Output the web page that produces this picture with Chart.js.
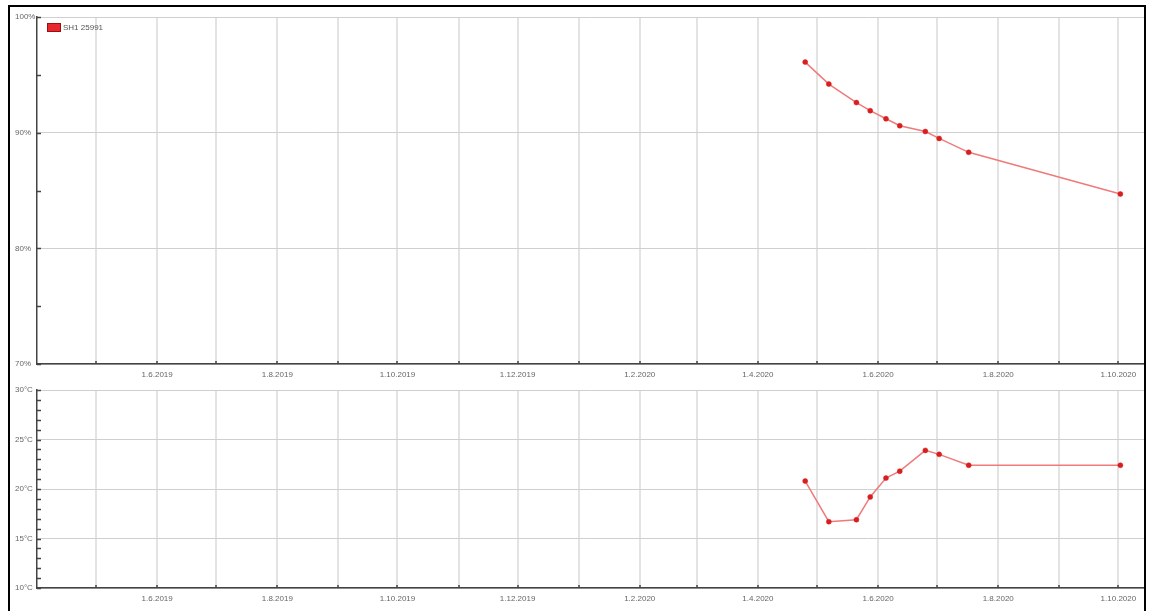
<!DOCTYPE html>
<html><head><meta charset="utf-8">
<script src="https://cdn.jsdelivr.net/npm/chart.js@4.4.0/dist/chart.umd.min.js"></script>
<style>
html,body{margin:0;padding:0;background:#fff;width:1149px;height:611px;overflow:hidden;}
#c1wrap{position:absolute;left:0;top:0;width:1149px;height:385px;}
#c2wrap{position:absolute;left:0;top:380px;width:1149px;height:231px;}
#frame{position:absolute;left:8px;top:5px;width:1134px;height:640px;border:2px solid #000;pointer-events:none;}
</style></head><body>
<div id="c1wrap"><canvas id="c1"></canvas></div>
<div id="c2wrap"><canvas id="c2"></canvas></div>
<div id="frame"></div>
<script>
// ---- data ----
const seriesLabel = 'SH1 25991';
const dates = ['2020-04-25','2020-05-07','2020-05-21','2020-05-28','2020-06-05','2020-06-12','2020-06-25','2020-07-02','2020-07-17','2020-10-02'];
const humidity = [96.1, 94.2, 92.6, 91.9, 91.2, 90.6, 90.1, 89.5, 88.3, 84.7];
const temperature = [20.8, 16.7, 16.9, 19.2, 21.1, 21.8, 23.9, 23.5, 22.4, 22.4];
const xMinDate = '2019-04-01';
const xMaxDate = '2020-10-14';
const monthTicks = ['2019-05-01','2019-06-01','2019-07-01','2019-08-01','2019-09-01','2019-10-01','2019-11-01','2019-12-01','2020-01-01','2020-02-01','2020-03-01','2020-04-01','2020-05-01','2020-06-01','2020-07-01','2020-08-01','2020-09-01','2020-10-01'];
const monthTickLabels = ['','1.6.2019','','1.8.2019','','1.10.2019','','1.12.2019','','1.2.2020','','1.4.2020','','1.6.2020','','1.8.2020','','1.10.2020'];
const humTicks = [70,75,80,85,90,95,100];
const humTickLabels = ['70%','','80%','','90%','','100%'];
const tempTicks = [10,11,12,13,14,15,16,17,18,19,20,21,22,23,24,25,26,27,28,29,30];
const tempTickLabels = ['10°C','','','','','15°C','','','','','20°C','','','','','25°C','','','','','30°C'];

// ---- helpers ----
const day = s => { const [y,m,d] = s.split('-').map(Number); return Date.UTC(y, m-1, d) / 864e5; };
const FONT_FAMILY = "'Liberation Sans', Arial, sans-serif";
const FONT = {family: FONT_FAMILY, size: 8};
const LABEL_COLOR = '#666';
const LINE_COLOR = '#f07a7a';
const POINT_COLOR = '#d81e1e';

const innerTicks = {
  id: 'innerTicks',
  afterDatasetsDraw(chart) {
    const ctx = chart.ctx, x = chart.scales.x, y = chart.scales.y, a = chart.chartArea;
    ctx.save();
    ctx.strokeStyle = '#444';
    ctx.lineWidth = 1.5;
    ctx.beginPath();
    x.ticks.forEach(t => { const p = Math.round(x.getPixelForValue(t.value)); ctx.moveTo(p, a.bottom); ctx.lineTo(p, a.bottom - 3); });
    y.ticks.forEach(t => { const p = Math.round(y.getPixelForValue(t.value)) + 0.5; ctx.moveTo(a.left, p); ctx.lineTo(a.left + 4, p); });
    ctx.stroke();
    ctx.restore();
  }
};
const insideLegend = {
  id: 'insideLegend',
  afterDraw(chart, args, opts) {
    if (!opts.show) return;
    const ctx = chart.ctx, a = chart.chartArea;
    const bx = a.left + 10, by = a.top + 6;
    ctx.save();
    ctx.fillStyle = '#e8262b';
    ctx.strokeStyle = '#9a1010';
    ctx.lineWidth = 1;
    ctx.fillRect(bx, by, 14, 9);
    ctx.strokeRect(bx + 0.5, by + 0.5, 13, 8);
    ctx.fillStyle = '#555';
    ctx.font = '8px ' + FONT_FAMILY;
    ctx.textBaseline = 'middle';
    ctx.fillText(chart.data.datasets[0].label, bx + 16, by + 4.5);
    ctx.restore();
  }
};

function makeChart(id, values, yTicks, yLabels, padTop, xAxisH, showLegend) {
  const xTickVals = monthTicks.map(day);
  return new Chart(document.getElementById(id), {
    type: 'line',
    data: {
      datasets: [{
        label: seriesLabel,
        data: dates.map((d, i) => ({x: day(d), y: values[i]})),
        borderColor: LINE_COLOR,
        backgroundColor: POINT_COLOR,
        borderWidth: 1.5,
        tension: 0,
        pointRadius: 2.5,
        pointBackgroundColor: POINT_COLOR,
        pointBorderColor: POINT_COLOR,
        pointBorderWidth: 0.5
      }]
    },
    options: {
      responsive: true,
      maintainAspectRatio: false,
      animation: false,
      layout: {padding: {left: 15, right: 5, top: padTop, bottom: 0}},
      plugins: {
        tooltip: {enabled: false},
        legend: {display: false},
        insideLegend: {show: showLegend}
      },
      scales: {
        x: {
          type: 'linear',
          min: day(xMinDate),
          max: day(xMaxDate),
          afterBuildTicks: s => { s.ticks = xTickVals.map(v => ({value: v})); },
          afterFit: s => { s.height = xAxisH; },
          ticks: {
            autoSkip: false, maxRotation: 0, minRotation: 0, padding: 6, font: FONT, color: LABEL_COLOR,
            callback: (v) => monthTickLabels[xTickVals.indexOf(v)] ?? ''
          },
          grid: {color: '#e3e3e3', lineWidth: 2, drawTicks: false},
          border: {color: '#444', width: 1.5}
        },
        y: {
          min: yTicks[0],
          max: yTicks[yTicks.length - 1],
          afterBuildTicks: s => { s.ticks = yTicks.map(v => ({value: v})); },
          afterFit: s => { s.width = 22; },
          ticks: {
            autoSkip: false, crossAlign: 'far', padding: 3, font: FONT, color: LABEL_COLOR,
            callback: v => yLabels[yTicks.indexOf(v)] ?? ''
          },
          grid: {
            drawTicks: false, lineWidth: 1,
            color: c => (c.tick && yLabels[yTicks.indexOf(c.tick.value)]) ? '#cfcfcf' : 'rgba(0,0,0,0)'
          },
          border: {color: '#444', width: 1.5}
        }
      }
    },
    plugins: [innerTicks, insideLegend]
  });
}

makeChart('c1', humidity, humTicks, humTickLabels, 17, 21, true);
makeChart('c2', temperature, tempTicks, tempTickLabels, 10, 23, false);
</script>
</body></html>
